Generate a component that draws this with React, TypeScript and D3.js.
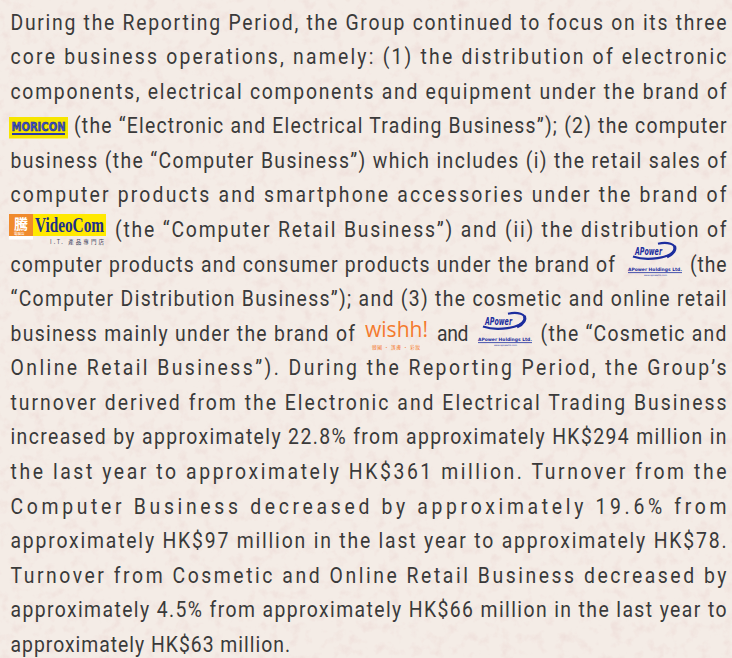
import React from "react";
import * as d3 from "d3";

// Text content of the paragraph, one entry per printed line; segments split around logos
const lineSegments: string[][] = [
  ["During the Reporting Period, the Group continued to focus on its three"],
  ["core business operations, namely: (1) the distribution of electronic"],
  ["components, electrical components and equipment under the brand of"],
  ["(the “Electronic and Electrical Trading Business”); (2) the computer"],
  ["business (the “Computer Business”) which includes (i) the retail sales of"],
  ["computer products and smartphone accessories under the brand of"],
  ["(the “Computer Retail Business”) and (ii) the distribution of"],
  ["computer products and consumer products under the brand of", "(the"],
  ["“Computer Distribution Business”); and (3) the cosmetic and online retail"],
  ["business mainly under the brand of", "and", "(the “Cosmetic and"],
  ["Online Retail Business”). During the Reporting Period, the Group’s"],
  ["turnover derived from the Electronic and Electrical Trading Business"],
  ["increased by approximately 22.8% from approximately HK$294 million in"],
  ["the last year to approximately HK$361 million. Turnover from the"],
  ["Computer Business decreased by approximately 19.6% from"],
  ["approximately HK$97 million in the last year to approximately HK$78."],
  ["Turnover from Cosmetic and Online Retail Business decreased by"],
  ["approximately 4.5% from approximately HK$66 million in the last year to"],
  ["approximately HK$63 million."],
];

const brandNames = ["MORICON", "VideoCom", "wishh!", "APower"];

const W = 732;
const H = 658;
const LEFT = 10.5;
const RIGHT = 726.5;
const SX = 0.88; // horizontal condensing of the body font

// horizontal extents of each text segment (layout)
const segmentSpans: Record<number, [number, number][]> = {
  3: [[74, RIGHT]],
  6: [[115, RIGHT]],
  7: [[LEFT, 615], [690, RIGHT]],
  9: [[LEFT, 355], [437, 468.5], [540.5, RIGHT]],
  18: [[LEFT, 290]],
};

const lineY = d3
  .scaleLinear()
  .domain([0, lineSegments.length - 1])
  .range([29.5, 651.8]);

const FONT = "Roboto, 'Noto Sans', sans-serif";
const TEXT_COLOR = "#3a3a3a";

function APowerLogo({ x, y }: { x: number; y: number }) {
  const blue = "#1c2d9e";
  return (
    <g transform={`translate(${x},${y})`}>
      <path
        d="M6,14.5 C20,19.5 44,16 47.5,8 C50,2 40,-0.5 31,1.8"
        fill="none"
        stroke={blue}
        strokeWidth={2.2}
      />
      <path d="M40,15 C46,12 49,8 47.5,4" fill="none" stroke={blue} strokeWidth={3} />
      <g transform="translate(8,13) scale(0.8,1)">
        <text
          x={0}
          y={0}
          fontFamily="'DejaVu Sans', sans-serif"
          fontStyle="italic"
          fontWeight="bold"
          fontSize={10}
          fill={blue}
          textLength={27 / 0.8}
          lengthAdjust="spacingAndGlyphs"
        >
          {brandNames[3]}
        </text>
      </g>
      <text
        x={1}
        y={29}
        fontFamily="'DejaVu Sans', sans-serif"
        fontWeight="bold"
        fontSize={4.6}
        fill={blue}
        textLength={54}
        lengthAdjust="spacingAndGlyphs"
      >
        APower Holdings Ltd.
      </text>
      <line x1={1} x2={55} y1={30.6} y2={30.6} stroke={blue} strokeWidth={0.8} />
      <text
        x={17}
        y={33.8}
        fontFamily="'DejaVu Sans', sans-serif"
        fontSize={2.4}
        fill={blue}
        textLength={23}
        lengthAdjust="spacingAndGlyphs"
      >
        www.apowerhk.com
      </text>
    </g>
  );
}

export default function App() {
  return (
    <svg
      width={W}
      height={H}
      viewBox={`0 0 ${W} ${H}`}
      style={{ position: "absolute", left: 0, top: 0, display: "block" }}
    >
      <defs>
        <filter id="paper" x="0" y="0" width="100%" height="100%">
          <feTurbulence type="fractalNoise" baseFrequency="0.09" numOctaves={3} seed={7} result="n" />
          <feColorMatrix
            in="n"
            type="matrix"
            values="0 0 0 0 0.82  0 0 0 0 0.64  0 0 0 0 0.62  0 0 0 1.8 -0.9"
          />
        </filter>
      </defs>
      <rect x={0} y={0} width={W} height={H} fill="#f4ece6" />
      <rect x={0} y={0} width={W} height={H} filter="url(#paper)" opacity={0.6} />

      {/* paragraph text */}
      {lineSegments.map((segs, i) => {
        const spans = segmentSpans[i] ?? [[LEFT, RIGHT]];
        return segs.map((s, j) => (
          <g key={`${i}-${j}`} transform={`translate(${spans[j][0]},${lineY(i)}) scale(${SX},1)`}>
            <text
              x={0}
              y={0}
              fontFamily={FONT}
              fontSize={22}
              fill={TEXT_COLOR}
              textLength={(spans[j][1] - spans[j][0]) / SX}
              lengthAdjust="spacing"
            >
              {s}
            </text>
          </g>
        ));
      })}

      {/* MORICON logo */}
      <g>
        <rect x={9} y={117} width={59} height={21.5} fill="#f6e500" />
        <g transform="translate(11.5,131) scale(0.85,1)">
          <text
            x={0}
            y={0}
            fontFamily="'DejaVu Sans Condensed', 'DejaVu Sans', sans-serif"
            fontWeight="bold"
            fontSize={13}
            fill="#3f54c8"
            stroke="#1a237e"
            strokeWidth={0.5}
            textLength={54 / 0.85}
            lengthAdjust="spacingAndGlyphs"
          >
            {brandNames[0]}
          </text>
        </g>
        <rect x={12} y={133} width={53} height={2} fill="#2b3aa6" />
      </g>

      {/* VideoCom logo */}
      <g>
        <rect x={9} y={214} width={24} height={22} fill="#f08a2c" />
        <text
          x={21}
          y={228.5}
          textAnchor="middle"
          fontFamily="'Noto Sans CJK TC', sans-serif"
          fontWeight="bold"
          fontSize={14}
          fill="#ffffff"
        >
          騰
        </text>
        <text x={14} y={235} fontFamily="'Noto Sans CJK TC', sans-serif" fontSize={3.5} fill="#ffffff">
          電腦店
        </text>
        <rect x={9} y={236} width={24} height={3.5} fill="#ffffff" />
        <rect x={33} y={214} width={73} height={22} fill="#ffe900" />
        <g transform="translate(35,232) scale(0.74,1)">
          <text
            x={0}
            y={0}
            fontFamily="'Liberation Serif', 'DejaVu Serif', serif"
            fontWeight="bold"
            fontSize={20}
            fill="#1d2f8c"
            textLength={69 / 0.74}
            lengthAdjust="spacingAndGlyphs"
          >
            {brandNames[1]}
          </text>
        </g>
        <text
          x={50}
          y={243.5}
          fontFamily="'Noto Sans CJK TC', sans-serif"
          fontSize={5.5}
          fill="#3a3a5a"
          textLength={54}
          lengthAdjust="spacing"
        >
          I.T. 產品專門店
        </text>
      </g>

      {/* APower logos */}
      <APowerLogo x={627} y={242} />
      <APowerLogo x={477} y={312} />

      {/* wishh logo */}
      <g>
        <g transform="translate(365,337) scale(0.95,1)">
          <text
            x={0}
            y={0}
            fontFamily="'Open Sans', 'DejaVu Sans', sans-serif"
            fontSize={21}
            fill="#f47a2e"
            textLength={63 / 0.95}
            lengthAdjust="spacingAndGlyphs"
          >
            {brandNames[2]}
          </text>
        </g>
        <text
          x={372}
          y={348.5}
          fontFamily="'Noto Sans CJK TC', sans-serif"
          fontSize={4.8}
          fill="#f47a2e"
          textLength={48}
          lengthAdjust="spacing"
        >
          韓國 · 護膚 · 彩妝
        </text>
      </g>
    </svg>
  );
}
